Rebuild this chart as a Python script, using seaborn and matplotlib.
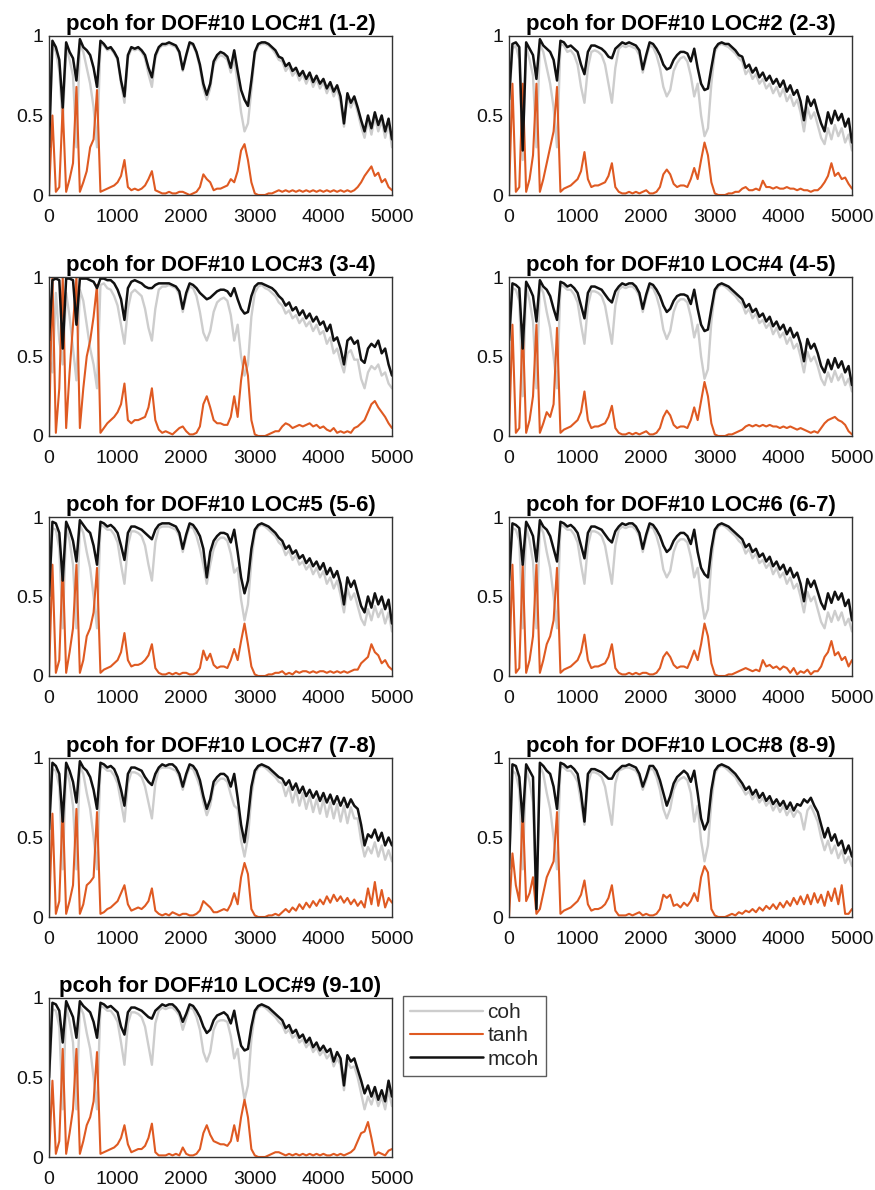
import numpy as np
import matplotlib
matplotlib.use("Agg")
import matplotlib.pyplot as plt
import seaborn as sns

# frequency grid (Hz), one sample every 50 Hz
FREQ = np.arange(0, 5001, 50)

TITLES = ["pcoh for DOF#10 LOC#1 (1-2)", "pcoh for DOF#10 LOC#2 (2-3)",
          "pcoh for DOF#10 LOC#3 (3-4)", "pcoh for DOF#10 LOC#4 (4-5)",
          "pcoh for DOF#10 LOC#5 (5-6)", "pcoh for DOF#10 LOC#6 (6-7)",
          "pcoh for DOF#10 LOC#7 (7-8)", "pcoh for DOF#10 LOC#8 (8-9)",
          "pcoh for DOF#10 LOC#9 (9-10)"]
X_TICKS = [0, 1000, 2000, 3000, 4000, 5000]
Y_TICKS = [0, 0.5, 1]
Y_TICKLABELS = ["0", "0.5", "1"]
SERIES = ["coh", "tanh", "mcoh"]

# ---- LOC#1 ----
mcoh_1 = [0.30,0.97,0.93,0.85,0.55,0.96,0.90,0.86,0.72,0.98, 0.93,0.91,0.88,0.80,0.68,0.97,0.95,0.92,0.93,0.90,
          0.86,0.72,0.62,0.88,0.93,0.92,0.93,0.91,0.88,0.80, 0.74,0.88,0.93,0.95,0.95,0.96,0.95,0.94,0.90,0.79,
          0.88,0.96,0.95,0.90,0.82,0.70,0.63,0.70,0.84,0.88, 0.90,0.89,0.87,0.80,0.91,0.78,0.66,0.60,0.56,0.72,
          0.90,0.95,0.96,0.96,0.95,0.93,0.91,0.87,0.86,0.81, 0.83,0.78,0.80,0.75,0.78,0.73,0.77,0.71,0.75,0.70,
          0.73,0.67,0.71,0.65,0.69,0.62,0.45,0.64,0.58,0.62, 0.55,0.47,0.40,0.50,0.42,0.52,0.44,0.50,0.40,0.48, 0.35]
coh_1 = [0.30,0.95,0.90,0.78,0.45,0.93,0.85,0.75,0.30,0.95, 0.90,0.80,0.70,0.55,0.30,0.95,0.94,0.91,0.92,0.89,
         0.85,0.70,0.58,0.86,0.92,0.91,0.92,0.90,0.86,0.76, 0.68,0.86,0.92,0.94,0.94,0.95,0.94,0.93,0.89,0.78,
         0.87,0.95,0.94,0.89,0.80,0.67,0.60,0.67,0.82,0.86, 0.88,0.87,0.85,0.77,0.86,0.70,0.52,0.40,0.45,0.66,
         0.88,0.94,0.95,0.95,0.94,0.92,0.89,0.85,0.84,0.78, 0.81,0.75,0.78,0.72,0.76,0.70,0.75,0.68,0.73,0.67,
         0.71,0.64,0.69,0.62,0.67,0.58,0.43,0.62,0.55,0.60, 0.52,0.43,0.36,0.47,0.38,0.49,0.40,0.47,0.36,0.45, 0.30]
tanh_1 = [0.00,0.50,0.02,0.05,0.56,0.02,0.10,0.20,0.68,0.02, 0.08,0.15,0.30,0.35,0.66,0.02,0.03,0.04,0.05,0.06,
          0.08,0.12,0.22,0.05,0.03,0.04,0.03,0.04,0.06,0.10, 0.15,0.03,0.02,0.01,0.01,0.02,0.01,0.01,0.02,0.02,
          0.01,0.00,0.01,0.02,0.05,0.13,0.10,0.08,0.03,0.04, 0.04,0.05,0.06,0.10,0.08,0.15,0.28,0.32,0.22,0.08,
          0.01,0.00,0.00,0.00,0.01,0.01,0.02,0.03,0.02,0.03, 0.02,0.03,0.02,0.03,0.02,0.03,0.02,0.03,0.02,0.03,
          0.02,0.03,0.02,0.03,0.02,0.03,0.02,0.03,0.02,0.03, 0.05,0.08,0.12,0.15,0.18,0.12,0.14,0.08,0.10,0.05, 0.03]

# ---- LOC#2 ----
mcoh_2 = [0.60,0.95,0.96,0.93,0.28,0.96,0.92,0.88,0.73,0.98, 0.94,0.92,0.90,0.85,0.72,0.97,0.96,0.93,0.94,0.92,
          0.90,0.82,0.76,0.90,0.94,0.94,0.93,0.92,0.90,0.87, 0.86,0.92,0.94,0.96,0.95,0.96,0.95,0.94,0.91,0.79,
          0.88,0.96,0.95,0.92,0.88,0.82,0.79,0.80,0.85,0.88, 0.90,0.90,0.89,0.84,0.92,0.80,0.70,0.66,0.67,0.80,
          0.92,0.95,0.96,0.95,0.95,0.93,0.91,0.88,0.87,0.80, 0.82,0.77,0.80,0.74,0.77,0.72,0.75,0.70,0.73,0.68,
          0.72,0.65,0.69,0.63,0.66,0.59,0.47,0.62,0.56,0.60, 0.52,0.45,0.40,0.52,0.45,0.53,0.47,0.51,0.43,0.48, 0.33]
coh_2 = [0.55,0.92,0.94,0.85,0.22,0.93,0.85,0.75,0.30,0.95, 0.90,0.80,0.70,0.55,0.30,0.95,0.94,0.90,0.91,0.88,
         0.82,0.68,0.58,0.80,0.90,0.91,0.90,0.88,0.82,0.70, 0.58,0.80,0.92,0.94,0.93,0.94,0.93,0.92,0.88,0.77,
         0.86,0.94,0.93,0.88,0.80,0.68,0.62,0.66,0.78,0.83, 0.86,0.87,0.84,0.75,0.62,0.70,0.50,0.37,0.42,0.70,
         0.90,0.94,0.95,0.94,0.93,0.91,0.89,0.86,0.84,0.76, 0.79,0.73,0.76,0.70,0.73,0.67,0.70,0.64,0.68,0.62,
         0.67,0.59,0.63,0.56,0.60,0.52,0.40,0.55,0.48,0.52, 0.44,0.36,0.32,0.42,0.35,0.44,0.37,0.42,0.33,0.38, 0.28]
tanh_2 = [0.00,0.70,0.02,0.05,0.70,0.02,0.10,0.25,0.70,0.02, 0.10,0.20,0.30,0.40,0.68,0.02,0.04,0.05,0.06,0.08,
          0.10,0.15,0.27,0.10,0.05,0.06,0.06,0.07,0.08,0.12, 0.20,0.05,0.02,0.01,0.01,0.02,0.01,0.02,0.01,0.02,
          0.03,0.01,0.01,0.02,0.05,0.13,0.16,0.13,0.07,0.05, 0.06,0.06,0.05,0.10,0.17,0.10,0.22,0.33,0.25,0.08,
          0.01,0.00,0.00,0.00,0.01,0.01,0.02,0.02,0.04,0.05, 0.03,0.03,0.04,0.03,0.09,0.05,0.05,0.04,0.05,0.04,
          0.04,0.05,0.04,0.04,0.03,0.04,0.03,0.03,0.02,0.03, 0.03,0.05,0.08,0.12,0.20,0.12,0.14,0.10,0.11,0.07, 0.04]

# ---- LOC#3 ----
mcoh_3 = [0.60,0.98,0.99,0.98,0.55,0.99,0.99,0.98,0.70,0.99, 0.99,0.99,0.98,0.97,0.93,0.99,0.99,0.98,0.98,0.96,
          0.92,0.86,0.73,0.93,0.97,0.98,0.97,0.96,0.94,0.93, 0.93,0.95,0.96,0.96,0.96,0.96,0.95,0.94,0.91,0.80,
          0.90,0.96,0.95,0.93,0.90,0.88,0.86,0.87,0.89,0.91, 0.92,0.92,0.91,0.88,0.93,0.86,0.80,0.77,0.78,0.88,
          0.94,0.96,0.96,0.95,0.94,0.93,0.91,0.88,0.86,0.82, 0.84,0.79,0.81,0.76,0.79,0.74,0.77,0.72,0.75,0.70,
          0.72,0.66,0.70,0.60,0.62,0.55,0.45,0.60,0.62,0.58, 0.60,0.48,0.46,0.55,0.58,0.56,0.60,0.52,0.55,0.45, 0.38]
coh_3 = [0.50,0.40,0.90,0.60,0.45,0.90,0.75,0.55,0.35,0.92, 0.85,0.70,0.55,0.45,0.30,0.95,0.96,0.93,0.92,0.88,
         0.82,0.70,0.58,0.80,0.90,0.92,0.90,0.88,0.80,0.68, 0.60,0.80,0.92,0.94,0.94,0.95,0.94,0.93,0.89,0.78,
         0.88,0.94,0.93,0.88,0.78,0.65,0.60,0.66,0.78,0.84, 0.86,0.87,0.85,0.76,0.60,0.70,0.50,0.38,0.45,0.75,
         0.90,0.94,0.95,0.93,0.92,0.90,0.88,0.84,0.82,0.77, 0.79,0.74,0.76,0.71,0.74,0.69,0.72,0.66,0.70,0.64,
         0.66,0.58,0.62,0.52,0.55,0.47,0.40,0.52,0.54,0.48, 0.48,0.36,0.30,0.40,0.44,0.42,0.45,0.38,0.40,0.33, 0.30]
tanh_3 = [0.00,1.00,0.02,0.30,1.00,0.05,0.40,0.70,1.00,0.05, 0.30,0.50,0.60,0.75,0.95,0.02,0.05,0.08,0.10,0.12,
          0.15,0.20,0.33,0.10,0.08,0.10,0.10,0.11,0.12,0.18, 0.30,0.10,0.04,0.02,0.03,0.02,0.01,0.03,0.05,0.06,
          0.03,0.01,0.01,0.02,0.06,0.20,0.25,0.18,0.10,0.08, 0.08,0.07,0.07,0.12,0.25,0.12,0.35,0.50,0.38,0.10,
          0.01,0.00,0.00,0.00,0.01,0.02,0.03,0.03,0.06,0.08, 0.07,0.05,0.06,0.07,0.06,0.07,0.08,0.06,0.07,0.05,
          0.06,0.04,0.03,0.05,0.02,0.03,0.02,0.03,0.02,0.05, 0.06,0.08,0.10,0.15,0.20,0.22,0.18,0.15,0.12,0.08, 0.05]

# ---- LOC#4 ----
mcoh_4 = [0.60,0.96,0.95,0.93,0.55,0.97,0.93,0.88,0.72,0.98, 0.94,0.92,0.88,0.80,0.73,0.97,0.96,0.94,0.95,0.93,
          0.90,0.82,0.74,0.90,0.94,0.94,0.93,0.92,0.89,0.86, 0.84,0.91,0.94,0.96,0.95,0.96,0.96,0.94,0.90,0.80,
          0.89,0.96,0.95,0.92,0.88,0.82,0.78,0.80,0.85,0.88, 0.89,0.89,0.88,0.83,0.92,0.80,0.70,0.66,0.67,0.80,
          0.92,0.95,0.96,0.95,0.94,0.92,0.90,0.88,0.86,0.81, 0.83,0.78,0.80,0.75,0.77,0.72,0.75,0.69,0.72,0.67,
          0.70,0.64,0.68,0.62,0.65,0.58,0.47,0.61,0.55,0.58, 0.52,0.44,0.40,0.48,0.42,0.49,0.43,0.47,0.40,0.44, 0.32]
coh_4 = [0.55,0.93,0.92,0.85,0.25,0.94,0.85,0.72,0.30,0.95, 0.90,0.78,0.68,0.50,0.30,0.95,0.94,0.92,0.92,0.89,
         0.84,0.70,0.58,0.82,0.91,0.91,0.90,0.88,0.82,0.70, 0.58,0.82,0.92,0.94,0.93,0.94,0.94,0.92,0.88,0.78,
         0.87,0.94,0.93,0.88,0.80,0.67,0.61,0.66,0.78,0.84, 0.86,0.86,0.84,0.75,0.62,0.70,0.50,0.36,0.42,0.72,
         0.90,0.94,0.95,0.94,0.92,0.90,0.88,0.85,0.83,0.77, 0.80,0.74,0.77,0.71,0.73,0.68,0.71,0.64,0.68,0.62,
         0.65,0.58,0.62,0.55,0.58,0.50,0.40,0.53,0.47,0.50, 0.44,0.36,0.32,0.40,0.34,0.41,0.35,0.39,0.32,0.36, 0.28]
tanh_4 = [0.00,0.70,0.02,0.05,0.70,0.02,0.10,0.25,0.70,0.02, 0.08,0.15,0.12,0.20,0.68,0.02,0.04,0.05,0.06,0.08,
          0.10,0.15,0.28,0.10,0.05,0.06,0.06,0.07,0.08,0.12, 0.19,0.05,0.02,0.01,0.01,0.02,0.01,0.02,0.01,0.02,
          0.03,0.01,0.01,0.02,0.05,0.12,0.16,0.13,0.07,0.05, 0.06,0.06,0.05,0.10,0.18,0.10,0.22,0.34,0.25,0.08,
          0.01,0.00,0.00,0.00,0.01,0.01,0.02,0.03,0.04,0.06, 0.07,0.06,0.07,0.06,0.07,0.06,0.07,0.06,0.06,0.05,
          0.06,0.05,0.06,0.05,0.04,0.05,0.04,0.03,0.02,0.03, 0.02,0.05,0.08,0.10,0.11,0.12,0.10,0.09,0.07,0.03, 0.01]

# ---- LOC#5 ----
mcoh_5 = [0.50,0.97,0.96,0.90,0.60,0.97,0.92,0.85,0.72,0.98, 0.95,0.92,0.90,0.82,0.70,0.97,0.96,0.94,0.95,0.93,
          0.90,0.82,0.73,0.90,0.94,0.94,0.93,0.92,0.90,0.88, 0.86,0.92,0.95,0.96,0.96,0.96,0.95,0.94,0.90,0.80,
          0.89,0.96,0.95,0.92,0.88,0.80,0.62,0.78,0.85,0.88, 0.90,0.90,0.89,0.84,0.92,0.78,0.62,0.52,0.60,0.80,
          0.92,0.95,0.96,0.95,0.94,0.92,0.90,0.87,0.85,0.80, 0.82,0.77,0.79,0.74,0.76,0.71,0.74,0.69,0.72,0.67,
          0.71,0.64,0.68,0.62,0.66,0.58,0.45,0.62,0.56,0.60, 0.52,0.44,0.40,0.50,0.43,0.52,0.45,0.50,0.42,0.48, 0.33]
coh_5 = [0.45,0.93,0.92,0.80,0.30,0.94,0.85,0.70,0.30,0.95, 0.90,0.78,0.68,0.50,0.30,0.95,0.94,0.92,0.92,0.89,
         0.84,0.70,0.58,0.82,0.91,0.91,0.90,0.88,0.82,0.70, 0.60,0.84,0.93,0.94,0.94,0.94,0.93,0.92,0.88,0.78,
         0.87,0.94,0.93,0.88,0.80,0.70,0.58,0.70,0.80,0.85, 0.87,0.87,0.85,0.77,0.65,0.68,0.48,0.35,0.45,0.72,
         0.90,0.94,0.95,0.94,0.92,0.90,0.88,0.84,0.82,0.76, 0.79,0.73,0.76,0.70,0.72,0.67,0.70,0.64,0.68,0.62,
         0.66,0.58,0.62,0.55,0.60,0.51,0.40,0.55,0.48,0.52, 0.44,0.36,0.32,0.42,0.35,0.44,0.37,0.42,0.33,0.40, 0.28]
tanh_5 = [0.00,0.70,0.02,0.10,0.70,0.02,0.15,0.30,0.70,0.02, 0.10,0.25,0.30,0.40,0.68,0.02,0.04,0.05,0.06,0.08,
          0.10,0.15,0.27,0.10,0.06,0.07,0.07,0.08,0.10,0.13, 0.20,0.05,0.02,0.01,0.01,0.02,0.01,0.02,0.01,0.02,
          0.02,0.01,0.01,0.02,0.05,0.16,0.10,0.14,0.07,0.05, 0.06,0.06,0.05,0.10,0.17,0.10,0.22,0.33,0.20,0.06,
          0.01,0.00,0.00,0.00,0.01,0.01,0.02,0.02,0.03,0.01, 0.02,0.01,0.03,0.02,0.03,0.03,0.02,0.03,0.02,0.03,
          0.03,0.02,0.03,0.02,0.03,0.02,0.03,0.02,0.03,0.04, 0.04,0.08,0.10,0.12,0.20,0.15,0.13,0.08,0.10,0.06, 0.04]

# ---- LOC#6 ----
mcoh_6 = [0.60,0.96,0.95,0.93,0.70,0.97,0.93,0.88,0.72,0.98, 0.94,0.92,0.88,0.80,0.72,0.97,0.96,0.94,0.95,0.93,
          0.90,0.82,0.74,0.90,0.94,0.94,0.93,0.92,0.89,0.86, 0.84,0.91,0.94,0.96,0.95,0.96,0.96,0.94,0.90,0.80,
          0.89,0.96,0.95,0.92,0.88,0.82,0.78,0.80,0.85,0.88, 0.90,0.90,0.88,0.83,0.92,0.78,0.68,0.64,0.62,0.80,
          0.92,0.95,0.96,0.95,0.94,0.92,0.90,0.88,0.86,0.81, 0.83,0.78,0.80,0.75,0.77,0.72,0.75,0.69,0.72,0.67,
          0.70,0.64,0.68,0.62,0.65,0.58,0.47,0.61,0.56,0.60, 0.53,0.46,0.42,0.52,0.46,0.53,0.48,0.52,0.44,0.48, 0.35]
coh_6 = [0.55,0.93,0.92,0.85,0.30,0.94,0.85,0.72,0.30,0.95, 0.90,0.78,0.68,0.50,0.30,0.95,0.94,0.92,0.92,0.89,
         0.84,0.70,0.58,0.82,0.91,0.91,0.90,0.88,0.82,0.70, 0.58,0.82,0.92,0.94,0.93,0.94,0.94,0.92,0.88,0.78,
         0.87,0.94,0.93,0.88,0.80,0.67,0.62,0.66,0.78,0.84, 0.86,0.86,0.84,0.75,0.62,0.68,0.50,0.36,0.42,0.72,
         0.90,0.94,0.95,0.94,0.92,0.90,0.88,0.85,0.83,0.77, 0.80,0.74,0.77,0.71,0.73,0.68,0.71,0.64,0.68,0.62,
         0.65,0.58,0.62,0.55,0.58,0.50,0.40,0.53,0.47,0.50, 0.42,0.34,0.30,0.40,0.34,0.41,0.35,0.40,0.32,0.36, 0.28]
tanh_6 = [0.00,0.70,0.02,0.05,0.70,0.02,0.10,0.25,0.70,0.02, 0.10,0.20,0.25,0.35,0.68,0.02,0.04,0.05,0.06,0.08,
          0.10,0.15,0.26,0.10,0.05,0.06,0.06,0.07,0.08,0.12, 0.20,0.05,0.02,0.01,0.01,0.02,0.01,0.02,0.01,0.02,
          0.02,0.01,0.01,0.02,0.05,0.12,0.15,0.12,0.07,0.05, 0.06,0.06,0.05,0.10,0.16,0.10,0.20,0.33,0.25,0.08,
          0.01,0.00,0.00,0.00,0.01,0.01,0.02,0.03,0.04,0.05, 0.04,0.03,0.04,0.03,0.10,0.06,0.07,0.05,0.06,0.04,
          0.06,0.05,0.02,0.05,0.01,0.03,0.02,0.04,0.01,0.03, 0.03,0.06,0.12,0.15,0.22,0.13,0.15,0.10,0.12,0.06, 0.10]

# ---- LOC#7 ----
mcoh_7 = [0.55,0.97,0.95,0.90,0.60,0.97,0.92,0.85,0.72,0.98, 0.94,0.92,0.88,0.80,0.68,0.97,0.96,0.94,0.95,0.93,
          0.88,0.80,0.70,0.90,0.94,0.94,0.93,0.92,0.88,0.85, 0.83,0.90,0.94,0.96,0.95,0.96,0.96,0.94,0.90,0.82,
          0.90,0.96,0.95,0.92,0.86,0.76,0.68,0.74,0.85,0.88, 0.90,0.90,0.88,0.82,0.90,0.75,0.58,0.47,0.62,0.82,
          0.92,0.95,0.96,0.95,0.94,0.92,0.90,0.88,0.87,0.83, 0.86,0.80,0.84,0.78,0.82,0.76,0.80,0.75,0.79,0.73,
          0.78,0.72,0.77,0.71,0.76,0.70,0.75,0.69,0.74,0.70, 0.68,0.58,0.45,0.52,0.50,0.55,0.48,0.53,0.45,0.50, 0.45]
coh_7 = [0.50,0.93,0.92,0.82,0.30,0.94,0.85,0.70,0.30,0.95, 0.90,0.78,0.68,0.50,0.30,0.95,0.94,0.92,0.92,0.89,
         0.84,0.72,0.60,0.84,0.91,0.91,0.90,0.88,0.82,0.72, 0.62,0.84,0.93,0.94,0.94,0.94,0.93,0.92,0.88,0.80,
         0.88,0.94,0.93,0.88,0.82,0.72,0.64,0.70,0.82,0.85, 0.87,0.87,0.85,0.77,0.70,0.68,0.48,0.38,0.50,0.76,
         0.90,0.94,0.95,0.94,0.92,0.90,0.88,0.85,0.84,0.76, 0.82,0.72,0.80,0.70,0.78,0.68,0.76,0.66,0.74,0.65,
         0.74,0.63,0.72,0.62,0.71,0.60,0.70,0.59,0.69,0.62, 0.62,0.48,0.38,0.44,0.40,0.47,0.38,0.45,0.36,0.42, 0.35]
tanh_7 = [0.00,0.65,0.02,0.10,0.70,0.02,0.10,0.20,0.68,0.02, 0.08,0.20,0.22,0.25,0.66,0.02,0.03,0.05,0.06,0.08,
          0.10,0.15,0.20,0.08,0.04,0.05,0.06,0.05,0.07,0.10, 0.18,0.04,0.02,0.01,0.02,0.01,0.03,0.02,0.01,0.02,
          0.02,0.01,0.01,0.02,0.04,0.10,0.08,0.06,0.03,0.03, 0.04,0.05,0.04,0.08,0.15,0.08,0.25,0.34,0.27,0.05,
          0.01,0.00,0.00,0.00,0.01,0.01,0.02,0.01,0.03,0.05, 0.03,0.06,0.04,0.08,0.05,0.09,0.06,0.10,0.07,0.11,
          0.08,0.13,0.09,0.14,0.10,0.13,0.09,0.12,0.08,0.11, 0.07,0.10,0.06,0.18,0.08,0.22,0.07,0.17,0.06,0.12, 0.09]

# ---- LOC#8 ----
mcoh_8 = [0.30,0.96,0.95,0.88,0.60,0.96,0.92,0.88,0.05,0.97, 0.95,0.92,0.90,0.82,0.68,0.97,0.96,0.94,0.95,0.93,
          0.90,0.78,0.60,0.90,0.93,0.93,0.92,0.91,0.89,0.87, 0.87,0.91,0.93,0.95,0.95,0.96,0.95,0.94,0.90,0.82,
          0.88,0.95,0.95,0.92,0.86,0.78,0.70,0.76,0.84,0.88, 0.90,0.92,0.90,0.85,0.92,0.78,0.62,0.55,0.60,0.80,
          0.92,0.95,0.96,0.95,0.94,0.92,0.90,0.87,0.84,0.80, 0.82,0.77,0.80,0.75,0.78,0.73,0.76,0.71,0.74,0.70,
          0.73,0.68,0.72,0.67,0.71,0.70,0.74,0.72,0.75,0.70, 0.66,0.58,0.50,0.56,0.48,0.52,0.45,0.48,0.40,0.45, 0.38]
coh_8 = [0.25,0.92,0.90,0.80,0.30,0.93,0.85,0.72,0.05,0.95, 0.90,0.78,0.68,0.50,0.30,0.95,0.94,0.92,0.92,0.89,
         0.85,0.72,0.58,0.84,0.91,0.91,0.90,0.88,0.82,0.70, 0.58,0.84,0.92,0.93,0.94,0.94,0.93,0.92,0.88,0.80,
         0.86,0.93,0.93,0.88,0.80,0.68,0.62,0.68,0.80,0.85, 0.87,0.88,0.86,0.78,0.60,0.70,0.48,0.35,0.45,0.72,
         0.90,0.94,0.95,0.94,0.92,0.90,0.88,0.84,0.81,0.77, 0.79,0.74,0.77,0.72,0.75,0.70,0.73,0.67,0.71,0.66,
         0.70,0.64,0.68,0.63,0.67,0.65,0.55,0.67,0.70,0.65, 0.60,0.50,0.42,0.48,0.40,0.45,0.37,0.42,0.34,0.38, 0.32]
tanh_8 = [0.00,0.40,0.20,0.10,0.68,0.10,0.15,0.25,0.02,0.05, 0.15,0.25,0.30,0.35,0.66,0.02,0.04,0.05,0.06,0.08,
          0.10,0.14,0.23,0.08,0.04,0.05,0.05,0.06,0.08,0.12, 0.20,0.04,0.01,0.01,0.01,0.02,0.01,0.02,0.03,0.01,
          0.02,0.01,0.01,0.02,0.05,0.14,0.12,0.14,0.07,0.08, 0.06,0.09,0.07,0.10,0.15,0.10,0.25,0.32,0.28,0.05,
          0.01,0.00,0.00,0.00,0.01,0.02,0.01,0.03,0.02,0.04, 0.03,0.05,0.03,0.06,0.04,0.07,0.05,0.08,0.05,0.09,
          0.06,0.10,0.07,0.12,0.08,0.13,0.08,0.14,0.08,0.15, 0.09,0.14,0.07,0.16,0.10,0.18,0.08,0.20,0.02,0.02, 0.05]

# ---- LOC#9 ----
mcoh_9 = [0.50,0.97,0.96,0.92,0.72,0.98,0.93,0.88,0.75,0.98, 0.95,0.93,0.91,0.85,0.75,0.97,0.96,0.94,0.95,0.93,
          0.91,0.82,0.77,0.91,0.94,0.94,0.93,0.92,0.90,0.88, 0.87,0.92,0.94,0.96,0.95,0.96,0.96,0.94,0.91,0.85,
          0.90,0.96,0.95,0.92,0.88,0.82,0.78,0.80,0.86,0.89, 0.90,0.91,0.89,0.84,0.92,0.80,0.70,0.67,0.68,0.82,
          0.92,0.95,0.96,0.95,0.94,0.92,0.90,0.88,0.86,0.81, 0.83,0.78,0.80,0.75,0.77,0.72,0.75,0.69,0.72,0.67,
          0.70,0.66,0.68,0.60,0.66,0.62,0.45,0.64,0.60,0.62, 0.55,0.48,0.40,0.45,0.38,0.44,0.36,0.42,0.35,0.48, 0.38]
coh_9 = [0.45,0.93,0.92,0.82,0.30,0.95,0.85,0.72,0.30,0.95, 0.90,0.78,0.68,0.50,0.30,0.95,0.94,0.92,0.92,0.89,
         0.85,0.72,0.58,0.84,0.91,0.91,0.90,0.88,0.82,0.70, 0.58,0.84,0.92,0.94,0.93,0.94,0.94,0.92,0.89,0.80,
         0.87,0.94,0.93,0.88,0.80,0.66,0.60,0.66,0.80,0.85, 0.86,0.86,0.85,0.76,0.62,0.68,0.50,0.36,0.45,0.74,
         0.90,0.94,0.95,0.94,0.92,0.90,0.88,0.85,0.83,0.78, 0.80,0.75,0.77,0.72,0.74,0.69,0.72,0.66,0.69,0.64,
         0.67,0.62,0.65,0.57,0.62,0.58,0.42,0.60,0.56,0.57, 0.50,0.40,0.30,0.38,0.33,0.40,0.32,0.38,0.30,0.42, 0.32]
tanh_9 = [0.00,0.48,0.02,0.10,0.68,0.02,0.15,0.30,0.68,0.02, 0.10,0.20,0.25,0.35,0.66,0.02,0.03,0.04,0.05,0.06,
          0.08,0.12,0.20,0.08,0.03,0.04,0.05,0.05,0.07,0.12, 0.21,0.03,0.01,0.01,0.01,0.02,0.01,0.02,0.01,0.06,
          0.02,0.01,0.01,0.02,0.05,0.15,0.20,0.14,0.10,0.09, 0.08,0.08,0.07,0.10,0.20,0.10,0.25,0.36,0.25,0.05,
          0.01,0.00,0.00,0.00,0.01,0.02,0.03,0.03,0.02,0.01, 0.02,0.01,0.02,0.01,0.02,0.01,0.02,0.01,0.02,0.01,
          0.02,0.01,0.01,0.02,0.01,0.02,0.01,0.02,0.03,0.05, 0.10,0.15,0.16,0.22,0.12,0.01,0.03,0.02,0.01,0.04, 0.05]

COH = [coh_1, coh_2, coh_3, coh_4, coh_5, coh_6, coh_7, coh_8, coh_9]
TANH = [tanh_1, tanh_2, tanh_3, tanh_4, tanh_5, tanh_6, tanh_7, tanh_8, tanh_9]
MCOH = [mcoh_1, mcoh_2, mcoh_3, mcoh_4, mcoh_5, mcoh_6, mcoh_7, mcoh_8, mcoh_9]

COLORS = {"coh": "#cdcdcd", "tanh": "#df5a22", "mcoh": "#111111"}
WIDTHS = {"coh": 1.7, "tanh": 1.5, "mcoh": 1.8}

sns.set_style("white")
plt.rcParams["font.family"] = ["Liberation Sans", "DejaVu Sans"]

W, H = 875, 1190
fig = plt.figure(figsize=(W / 100, H / 100), dpi=100)

col_x = [49, 509]
ax_w, ax_h = 343, 159
row_top = [36, 277, 517, 758, 998]

for k in range(9):
    r, c = divmod(k, 2)
    x0, y0 = col_x[c], row_top[r]
    ax = fig.add_axes([x0 / W, 1 - (y0 + ax_h) / H, ax_w / W, ax_h / H])
    for name, vals in zip(SERIES, [COH[k], TANH[k], MCOH[k]]):
        sns.lineplot(x=FREQ, y=vals, ax=ax, color=COLORS[name], linewidth=WIDTHS[name],
                     label=name, legend=False)
    ax.set_xlim(0, 5000)
    ax.set_ylim(0, 1)
    ax.set_xticks(X_TICKS)
    ax.set_xticklabels([str(t) for t in X_TICKS])
    ax.set_yticks(Y_TICKS)
    ax.set_yticklabels(Y_TICKLABELS)
    ax.set_xlabel("")
    ax.set_ylabel("")
    ax.tick_params(direction="in", length=3, width=0.8, labelsize=14,
                   colors="#222222", labelcolor="#111111")
    ax.tick_params(axis="x", pad=10)
    ax.tick_params(axis="y", pad=4)
    for s in ax.spines.values():
        s.set_color("#333333")
        s.set_linewidth(1.0)
    ax.set_title(TITLES[k], fontsize=16, fontweight="bold", color="black", pad=4)
    if k == 8:
        handles, labels = ax.get_legend_handles_labels()

fig.legend(handles, labels, loc="upper left", bbox_to_anchor=(403 / W, 1 - 996 / H),
           frameon=True, fancybox=False, edgecolor="#333333", fontsize=15,
           handlelength=3.5, handletextpad=0.2, borderaxespad=0, borderpad=0.35,
           labelspacing=0.2, markerfirst=True)

fig.savefig("out.png", dpi=100)
